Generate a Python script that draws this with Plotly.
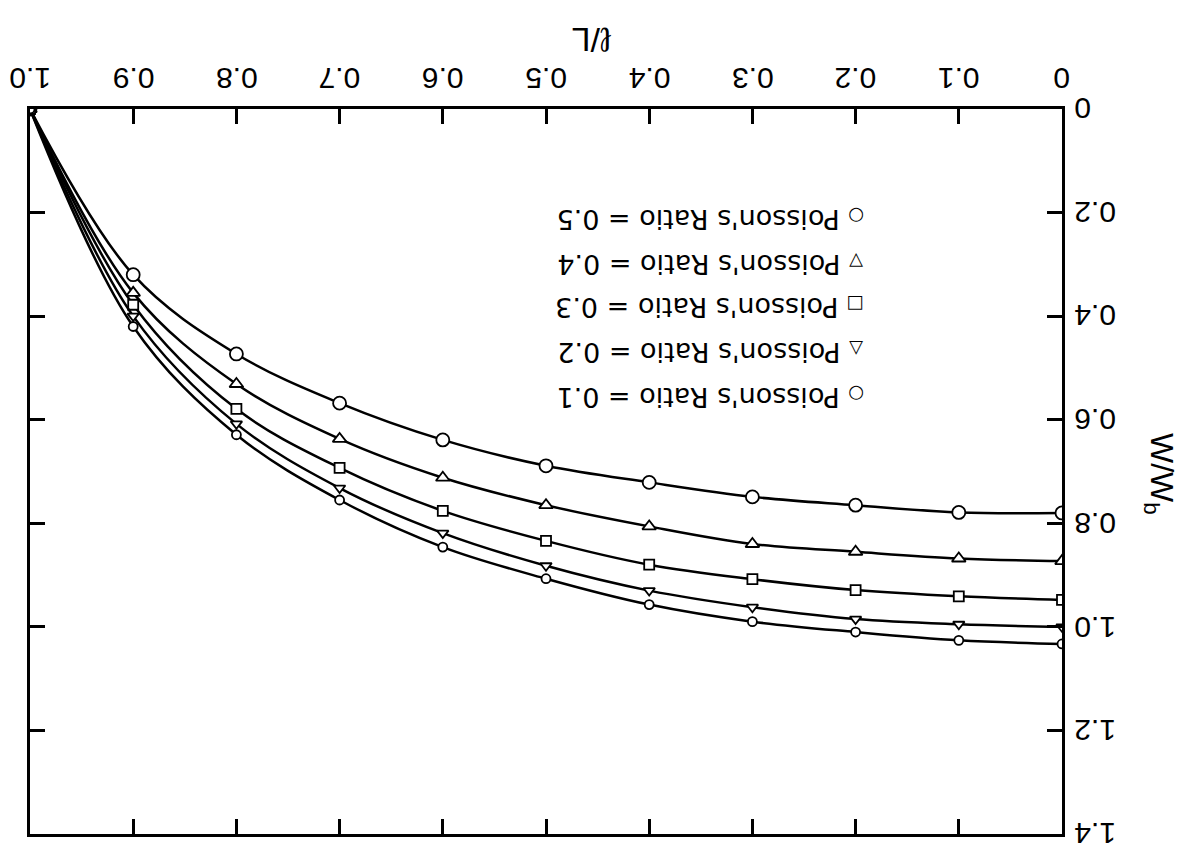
import plotly.graph_objects as go

# l/L positions
x_vals = [0.0, 0.1, 0.2, 0.3, 0.4, 0.5, 0.6, 0.7, 0.8, 0.9, 1.0]

# W/Wb for each Poisson's ratio
w_05 = [0.780, 0.779, 0.765, 0.749, 0.721, 0.689, 0.639, 0.568, 0.473, 0.320, 0.0]
w_04 = [0.873, 0.868, 0.855, 0.840, 0.806, 0.765, 0.712, 0.637, 0.531, 0.355, 0.0]
w_03 = [0.948, 0.941, 0.929, 0.908, 0.880, 0.834, 0.776, 0.693, 0.579, 0.378, 0.0]
w_02 = [1.000, 0.995, 0.985, 0.962, 0.930, 0.882, 0.819, 0.732, 0.608, 0.400, 0.0]
w_01 = [1.033, 1.026, 1.010, 0.990, 0.957, 0.907, 0.846, 0.755, 0.629, 0.420, 0.0]

series = [
    ("0.5", w_05, "circle", 13),
    ("0.4", w_04, "triangle-up", 12),
    ("0.3", w_03, "square", 10),
    ("0.2", w_02, "triangle-down", 10),
    ("0.1", w_01, "circle", 9),
]

x_ticks = [0, 0.1, 0.2, 0.3, 0.4, 0.5, 0.6, 0.7, 0.8, 0.9, 1.0]
x_ticklabels = ["0", "0.1", "0.2", "0.3", "0.4", "0.5", "0.6", "0.7", "0.8", "0.9", "1.0"]
y_ticks = [0, 0.2, 0.4, 0.6, 0.8, 1.0, 1.2, 1.4]
y_ticklabels = ["0", "0.2", "0.4", "0.6", "0.8", "1.0", "1.2", "1.4"]

# legend rows (glyphs are drawn upside down, so triangles are given flipped)
legend_glyphs = ["\u25cb", "\u25bd", "\u25a1", "\u25b3", "\u25cb"]
legend_texts = ["Poisson's Ratio = 0.5", "Poisson's Ratio = 0.4", "Poisson's Ratio = 0.3",
                "Poisson's Ratio = 0.2", "Poisson's Ratio = 0.1"]
legend_py = [220, 265, 308, 353, 398]

FONT = "Liberation Sans, Arial, sans-serif"
LFONT = "DejaVu Sans, sans-serif"

fig = go.Figure()
for name, ys, sym, size in series:
    fig.add_trace(go.Scatter(
        x=x_vals, y=ys, mode="lines+markers", name=name,
        line=dict(color="black", width=2.5, shape="spline", smoothing=1.0),
        marker=dict(symbol=sym, size=size, color="white",
                    line=dict(color="black", width=1.8)),
        showlegend=False,
    ))

L, R, T, B = 30, 121, 109, 17
W, H = 1183, 851
pw, ph = W - L - R, H - T - B

def px_to_paper(px, py):
    return (px - L) / pw, (H - B - py) / ph

annotations = []
# x tick labels (upside down, above the top axis)
for v, lab in zip(x_ticks, x_ticklabels):
    annotations.append(dict(text=lab, x=v, xref="x", y=1, yref="paper",
                            yshift=30, xanchor="center", yanchor="middle",
                            showarrow=False, textangle=180,
                            font=dict(family=FONT, size=30, color="black")))
# y tick labels (upside down, right of the right axis)
for v, lab in zip(y_ticks, y_ticklabels):
    annotations.append(dict(text=lab, x=1, xref="paper", y=v, yref="y",
                            xshift=10, xanchor="left", yanchor="middle",
                            showarrow=False, textangle=180,
                            font=dict(family=FONT, size=30, color="black")))
# legend
for g, t, py in zip(legend_glyphs, legend_texts, legend_py):
    xp, yp = px_to_paper(710, py)
    annotations.append(dict(text=f"<span style='font-size:18px'>{g}</span> {t}",
                            x=xp, y=yp, xref="paper", yref="paper",
                            xanchor="center", yanchor="middle",
                            showarrow=False, textangle=180,
                            font=dict(family=LFONT, size=27, color="black")))
# axis titles
xp, yp = px_to_paper(592, 40)
annotations.append(dict(text="\u2113/L", x=xp, y=yp, xref="paper", yref="paper",
                        xanchor="center", yanchor="middle",
                        showarrow=False, textangle=180,
                        font=dict(family=FONT, size=34, color="black")))
xp, yp = px_to_paper(1160, 474)
annotations.append(dict(text="W/W<sub>b</sub>", x=xp, y=yp, xref="paper", yref="paper",
                        xanchor="center", yanchor="middle",
                        showarrow=False, textangle=90,
                        font=dict(family=FONT, size=32, color="black")))

fig.update_layout(
    width=W, height=H,
    margin=dict(l=L, r=R, t=T, b=B, pad=0),
    paper_bgcolor="white", plot_bgcolor="white",
    annotations=annotations,
    xaxis=dict(range=[1.0, 0.0], side="top", tickmode="array",
               tickvals=x_ticks, showticklabels=False,
               ticks="inside", ticklen=15, tickwidth=2.5, tickcolor="black",
               showline=True, linewidth=3, linecolor="black", mirror="allticks",
               showgrid=False, zeroline=False),
    yaxis=dict(range=[1.4, 0.0], side="right", tickmode="array",
               tickvals=y_ticks, showticklabels=False,
               ticks="inside", ticklen=15, tickwidth=2.5, tickcolor="black",
               showline=True, linewidth=3, linecolor="black", mirror="allticks",
               showgrid=False, zeroline=False),
)

fig.write_html("out.html")
